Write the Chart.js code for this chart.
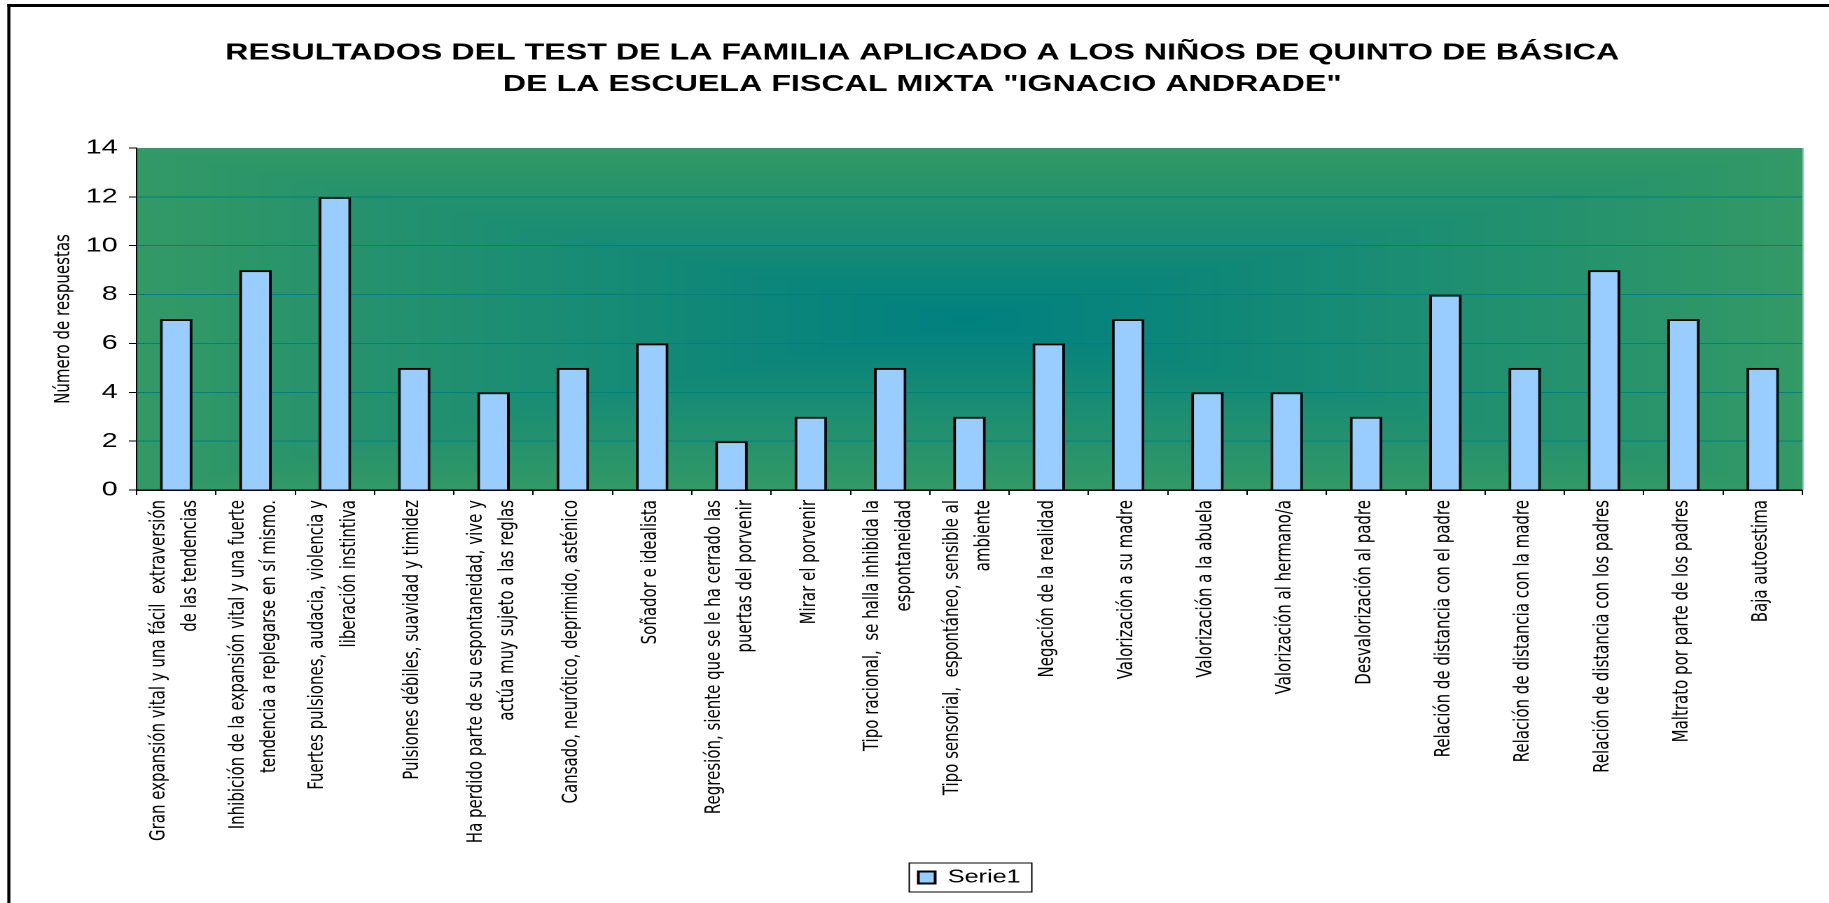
<!DOCTYPE html>
<html>
<head>
<meta charset="utf-8">
<script src="https://cdn.jsdelivr.net/npm/chart.js@4.4.1/dist/chart.umd.min.js"></script>
<style>
html,body{margin:0;padding:0;background:#fff;overflow:hidden;width:1829px;height:903px}
#wrap{position:absolute;left:0;top:0;width:1306px;height:903px;transform:scaleX(1.400459);transform-origin:0 0}
canvas{display:block}
</style>
</head>
<body>
<div id="wrap"><canvas id="c" width="1306" height="903"></canvas></div>
<script>
// ---------- data ----------
const titleLines = [
  "RESULTADOS DEL TEST DE LA FAMILIA APLICADO A LOS NIÑOS DE QUINTO DE BÁSICA",
  "DE LA ESCUELA FISCAL MIXTA \"IGNACIO ANDRADE\""
];
const categories = [
  ["Gran expansión vital y una fácil  extraversión", "de las tendencias"],
  ["Inhibición de la expansión vital y una fuerte", "tendencia a replegarse en sí mismo."],
  ["Fuertes pulsiones, audacia, violencia y", "liberación instintiva"],
  "Pulsiones débiles, suavidad y timidez",
  ["Ha perdido parte de su espontaneidad, vive y", "actúa muy sujeto a las reglas"],
  "Cansado, neurótico, deprimido, asténico",
  "Soñador e idealista",
  ["Regresión, siente que se le ha cerrado las", "puertas del porvenir"],
  "Mirar el porvenir",
  ["Tipo racional,  se halla inhibida la", "espontaneidad"],
  ["Tipo sensorial,  espontáneo, sensible al", "ambiente"],
  "Negación de la realidad",
  "Valorización a su madre",
  "Valorización a la abuela",
  "Valorización al hermano/a",
  "Desvalorización al padre",
  "Relación de distancia con el padre",
  "Relación de distancia con la madre",
  "Relación de distancia con los padres",
  "Maltrato por parte de los padres",
  "Baja autoestima"
];
const seriesName = "Serie1";
const values = [7, 9, 12, 5, 4, 5, 6, 2, 3, 5, 3, 6, 7, 4, 4, 3, 8, 5, 9, 7, 5];
const yTickValues = [0, 2, 4, 6, 8, 10, 12, 14];
const yAxisTitle = "Número de respuestas";

// ---------- layout (internal canvas units; canvas is stretched horizontally) ----------
const CANVAS_H = 903;
const PLOT_BOTTOM = 490;
const Y_AXIS_W = 67.5;
const LEGEND_CY = 877.5;
const XLBL_SIZE = 15, XLBL_LH = 1.507;
const SANS = "'Liberation Sans', Arial, Helvetica, sans-serif";
const WIDE = "'DejaVu Sans', Verdana, sans-serif";

Chart.defaults.color = '#000';
Chart.defaults.font.family = SANS;

const EDGE = [51, 153, 102], CENTER = [0, 128, 128];

const bgPlugin = {
  id: 'bgPlugin',
  beforeDraw(chart) {
    const ctx = chart.ctx, a = chart.chartArea;
    const dpr = chart.currentDevicePixelRatio || 1;
    const w = a.right - a.left, h = a.bottom - a.top;
    const pw = Math.max(1, Math.round(w * dpr)), ph = Math.max(1, Math.round(h * dpr));
    const off = document.createElement('canvas');
    off.width = pw; off.height = ph;
    const octx = off.getContext('2d');
    const img = octx.createImageData(pw, ph);
    const d = img.data;
    for (let y = 0; y < ph; y++) {
      const ny = Math.abs((y + 0.5) / ph * 2 - 1);
      for (let x = 0; x < pw; x++) {
        const nx = Math.abs((x + 0.5) / pw * 2 - 1);
        const t = Math.max(nx, ny);
        const i = (y * pw + x) * 4;
        d[i] = CENTER[0] + (EDGE[0] - CENTER[0]) * t;
        d[i + 1] = CENTER[1] + (EDGE[1] - CENTER[1]) * t;
        d[i + 2] = CENTER[2] + (EDGE[2] - CENTER[2]) * t;
        d[i + 3] = 255;
      }
    }
    octx.putImageData(img, 0, 0);
    ctx.save();
    ctx.drawImage(off, a.left, a.top, w, h);
    ctx.restore();

    // center the legend under the plot area and at the reference height
    const lg = chart.legend;
    if (lg && lg.legendHitBoxes && lg.legendHitBoxes.length && !lg._moved) {
      const hb = lg.legendHitBoxes[0];
      const dx = (a.left + a.right) / 2 - (hb.left + hb.width / 2);
      const dy = LEGEND_CY - (hb.top + hb.height / 2);
      lg.left += dx; lg.right += dx; lg.top += dy; lg.bottom += dy;
      lg.legendHitBoxes.forEach(b => { b.left += dx; b.top += dy; });
      lg._moved = true;
    }

    // center multi-line category labels on their tick
    const xs = chart.scales.x;
    const items = xs.getLabelItems();
    if (!items._shifted) {
      const lh = XLBL_SIZE * XLBL_LH;
      items.forEach(it => {
        const n = Array.isArray(it.label) ? it.label.length : 1;
        it.options.translation[0] += -(n - 1) * lh / 2 - 1;
      });
      items._shifted = true;
    }
  }
};

const framePlugin = {
  id: 'framePlugin',
  afterDraw(chart) {
    const ctx = chart.ctx, a = chart.chartArea;
    ctx.save();
    // light right edge of plot area
    ctx.strokeStyle = 'rgba(140,200,160,0.9)';
    ctx.lineWidth = 1;
    ctx.beginPath();
    ctx.moveTo(a.right + 0.5, a.top);
    ctx.lineTo(a.right + 0.5, a.bottom);
    ctx.stroke();
    // legend border
    const lg = chart.legend;
    if (lg && lg.legendHitBoxes && lg.legendHitBoxes.length) {
      const hb = lg.legendHitBoxes[0];
      const cy = hb.top + hb.height / 2;
      ctx.strokeStyle = '#000';
      ctx.lineWidth = 1;
      ctx.strokeRect(hb.left - 6.5, cy - 14.5, hb.width + 6.5 + 8, 29);
    }
    // outer chart border (top and left)
    ctx.strokeStyle = '#000';
    ctx.lineWidth = 3;
    ctx.beginPath();
    ctx.moveTo(5.2, 5.5);
    ctx.lineTo(chart.width, 5.5);
    ctx.stroke();
    ctx.lineWidth = 2.2;
    ctx.beginPath();
    ctx.moveTo(6.3, 4);
    ctx.lineTo(6.3, chart.height);
    ctx.stroke();
    ctx.restore();
  }
};

new Chart(document.getElementById('c'), {
  type: 'bar',
  data: {
    labels: categories,
    datasets: [{
      label: seriesName,
      data: values,
      backgroundColor: '#99CCFF',
      borderColor: '#000000',
      borderWidth: 2,
      borderSkipped: 'start',
      barPercentage: 0.41,
      categoryPercentage: 1.0
    }]
  },
  options: {
    responsive: false,
    devicePixelRatio: 2,
    animation: false,
    events: [],
    layout: { padding: { left: 30, right: 19, top: 0, bottom: 0 } },
    plugins: {
      title: {
        display: true,
        text: titleLines,
        color: '#000',
        font: { family: SANS, size: 23, weight: 'bold', lineHeight: 31.5 / 23 },
        padding: { top: 37.25, bottom: 47.75 }
      },
      legend: {
        display: true,
        position: 'bottom',
        labels: {
          color: '#000',
          font: { family: SANS, size: 18 },
          boxWidth: 12,
          boxHeight: 12,
          padding: 4
        }
      },
      tooltip: { enabled: false }
    },
    scales: {
      x: {
        grid: { drawOnChartArea: false, drawTicks: true, tickLength: 5, tickColor: '#000', tickWidth: 1 },
        border: { display: true, color: '#000', width: 1.5 },
        ticks: {
          autoSkip: false, minRotation: 90, maxRotation: 90, padding: 5, color: '#000',
          font: { family: WIDE, size: XLBL_SIZE, lineHeight: XLBL_LH }
        },
        afterFit(s) { s.height = CANVAS_H - PLOT_BOTTOM - s.chart.legend.height; }
      },
      y: {
        min: 0, max: 14,
        ticks: { stepSize: 2, padding: 8, color: '#000', font: { family: SANS, size: 20.5 } },
        afterBuildTicks(s) { s.ticks = yTickValues.map(v => ({ value: v })); },
        grid: {
          color: c => (c.tick && (c.tick.value === 0 || c.tick.value === 14)) ? 'rgba(0,0,0,0)' : '#008080',
          lineWidth: 1, drawTicks: true, tickLength: 5.5, tickColor: '#000'
        },
        border: { display: true, color: '#000', width: 1 },
        title: {
          display: true, text: yAxisTitle, color: '#000',
          font: { family: WIDE, size: 15, lineHeight: 1.2 },
          padding: { top: 6.5, bottom: 0 }
        },
        afterFit(s) { s.width = Y_AXIS_W; }
      }
    }
  },
  plugins: [bgPlugin, framePlugin]
});
</script>
</body>
</html>
